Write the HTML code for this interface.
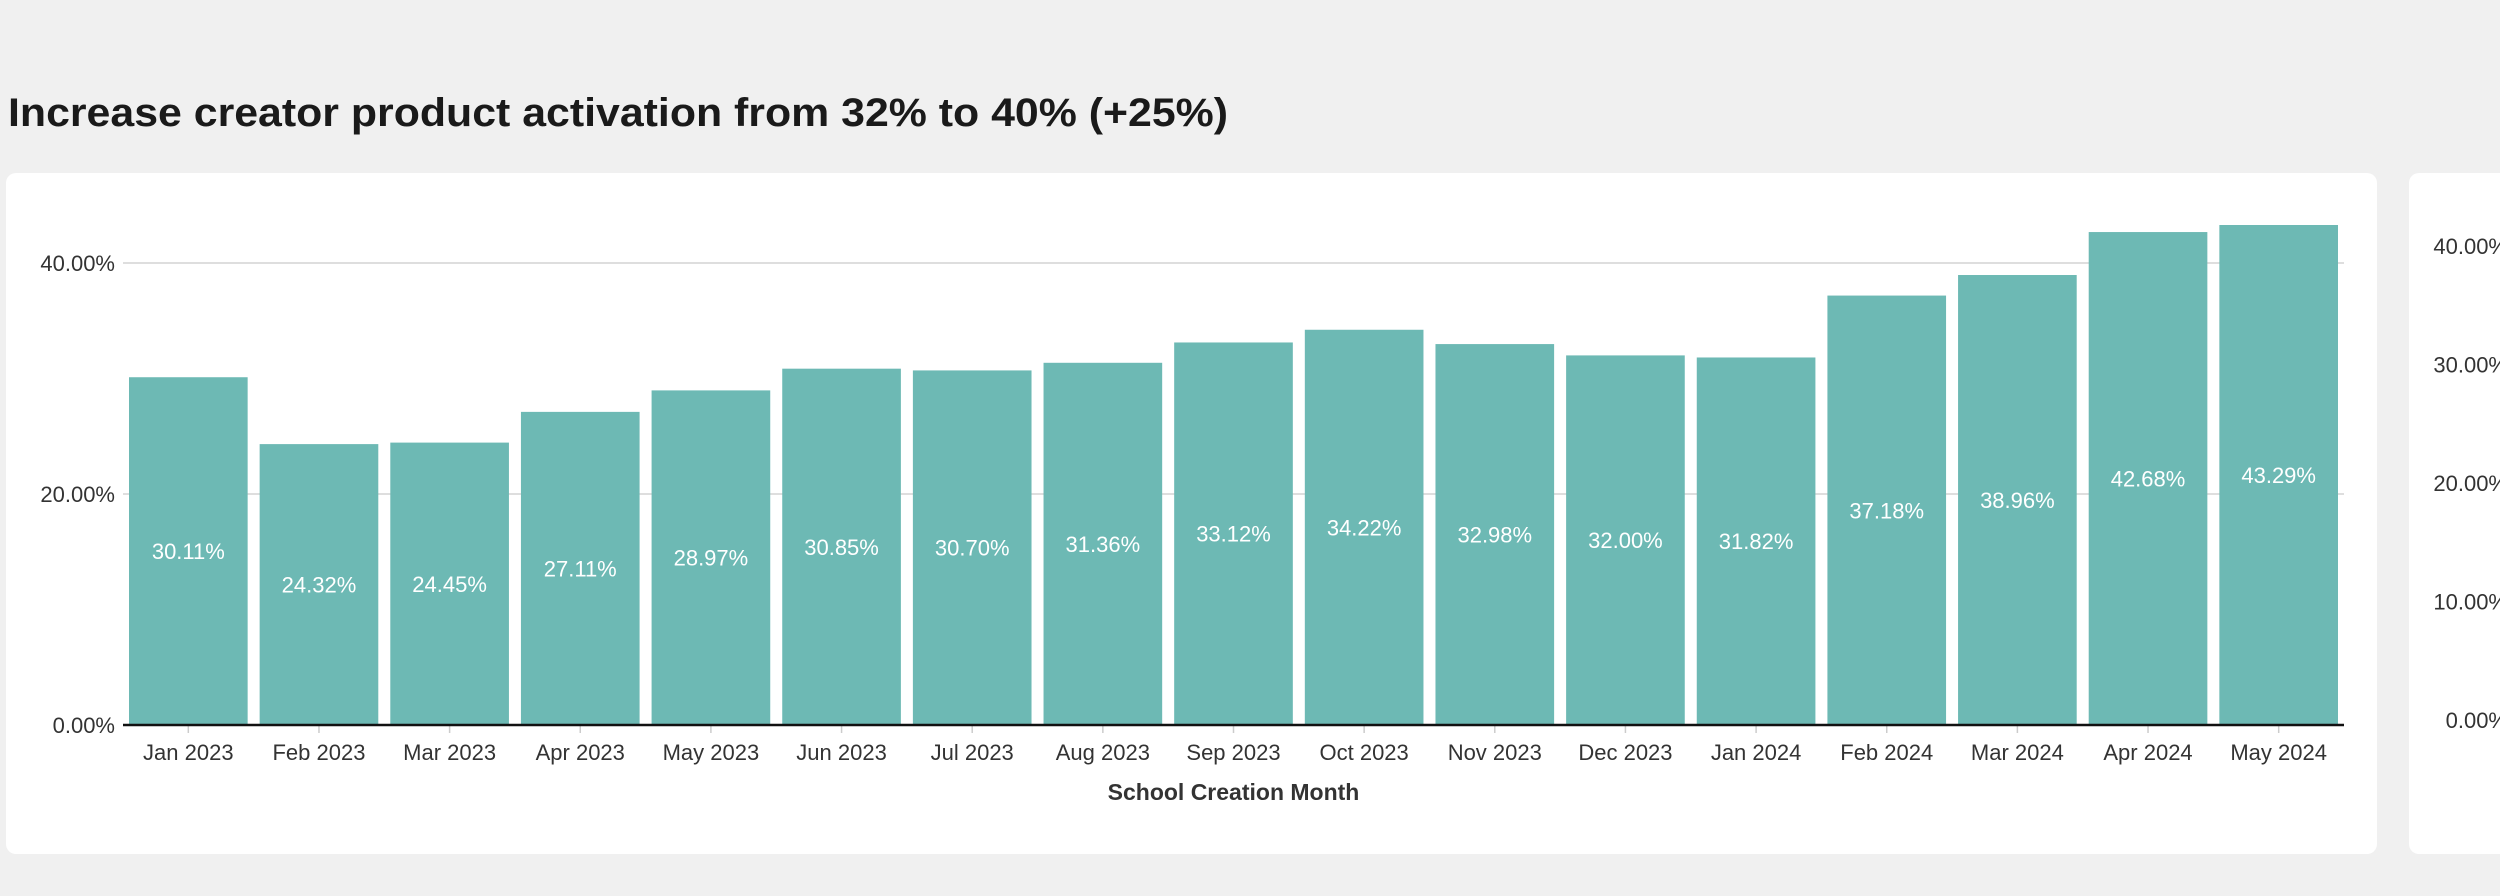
<!DOCTYPE html>
<html><head><meta charset="utf-8">
<style>
html,body{margin:0;padding:0;background:#f0f0f0;width:2500px;height:896px;overflow:hidden;font-family:"Liberation Sans",sans-serif;}
</style></head>
<body>
<svg width="2500" height="896" xmlns="http://www.w3.org/2000/svg">
<text x="8" y="126" font-size="40" font-weight="bold" fill="#1a1a1a" textLength="1220" lengthAdjust="spacingAndGlyphs">Increase creator product activation from 32% to 40% (+25%)</text>
<rect x="6" y="173" width="2371" height="681" rx="10" fill="#fff"/>
<rect x="2409" y="173" width="120" height="681" rx="10" fill="#fff"/>
<g id="card2" font-size="22" fill="#333"></g>
<g id="chart"></g>
</svg>
<script>
const categories=["Jan 2023","Feb 2023","Mar 2023","Apr 2023","May 2023","Jun 2023","Jul 2023","Aug 2023","Sep 2023","Oct 2023","Nov 2023","Dec 2023","Jan 2024","Feb 2024","Mar 2024","Apr 2024","May 2024"];
const values=[30.11,24.32,24.45,27.11,28.97,30.85,30.70,31.36,33.12,34.22,32.98,32.00,31.82,37.18,38.96,42.68,43.29];
const yTicks=[0,20,40];
const card2Ticks=[0,10,20,30,40];
const NS="http://www.w3.org/2000/svg";
const g=document.getElementById('chart');
const x0=123,x1=2344,y0=725,pxPerUnit=231/20;
const band=(x1-x0)/categories.length,pad=6;
const y=v=>y0-v*pxPerUnit;
const xs=i=>x0+i*band;
function mk(tag,attrs,text){const e=document.createElementNS(NS,tag);for(const k in attrs)e.setAttribute(k,attrs[k]);if(text!=null)e.textContent=text;return e;}
yTicks.forEach(t=>{
  if(t>0){const l=mk('line',{x1:x0,x2:x1,y1:y(t),y2:y(t),stroke:'#d4d4d4','stroke-width':1.5});
  
  g.appendChild(l);}
  const tx=mk('text',{x:115,y:y(t)+8,'text-anchor':'end','font-size':22,fill:'#333'},t.toFixed(2)+'%');
  
  g.appendChild(tx);
});
values.forEach((v,i)=>{
  const r=mk('rect',{x:xs(i)+pad,y:y(v),width:band-2*pad,height:y0-y(v),fill:'#6db9b4'});
  
  g.appendChild(r);
  const lb=mk('text',{x:xs(i)+band/2,y:(y(v)+y0)/2+8,'text-anchor':'middle','font-size':22,fill:'#fff'},v.toFixed(2)+'%');
  
  g.appendChild(lb);
  const tk=mk('line',{x1:xs(i)+band/2,x2:xs(i)+band/2,y1:y0,y2:y0+8,stroke:'#ccc','stroke-width':1.5});
  
  g.appendChild(tk);
  const xl=mk('text',{x:xs(i)+band/2,y:760,'text-anchor':'middle','font-size':22,fill:'#333'},categories[i]);
  
  g.appendChild(xl);
});
const ax=mk('line',{x1:x0,x2:x1,y1:y0,y2:y0,stroke:'#111','stroke-width':2.5});

g.appendChild(ax);
const at=mk('text',{x:(x0+x1)/2,y:800,'text-anchor':'middle','font-size':23,'font-weight':'bold',fill:'#333'},'School Creation Month');

g.appendChild(at);
const c2=document.getElementById('card2');
card2Ticks.forEach(t=>{
  const tx=mk('text',{x:2508,y:720-t*11.85+8,'text-anchor':'end'},t.toFixed(2)+'%');
  
  c2.appendChild(tx);
});
</script>
</body></html>
